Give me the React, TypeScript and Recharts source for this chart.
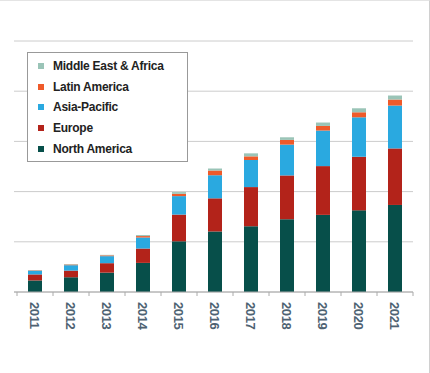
import { BarChart, Bar, XAxis, YAxis, CartesianGrid, Legend } from "recharts";

const years = ["2011", "2012", "2013", "2014", "2015", "2016", "2017", "2018", "2019", "2020", "2021"];
const northAmerica = [11.5, 14.7, 19.3, 29, 50.5, 60.3, 65.5, 72.5, 76.8, 81.3, 86.7];
const europe = [6, 6.6, 9.4, 14.3, 26.6, 33, 39, 43.6, 48.6, 53.4, 56.3];
const asiaPacific = [3.7, 5.4, 7, 11, 18.4, 23, 27, 30.7, 35.4, 39.3, 42.7];
const latinAmerica = [0.4, 0.7, 0.8, 1.4, 2.3, 4.7, 3.6, 4.7, 4.6, 5, 6];
const middleEastAfrica = [0.3, 0.5, 0.5, 1, 1.7, 2, 3, 2.6, 3.4, 4, 4];
const yTicks = [0, 50, 100, 150, 200, 250];

const series = [
  { key: "na", name: "North America", values: northAmerica, color: "#074f4a" },
  { key: "eu", name: "Europe", values: europe, color: "#b3231a" },
  { key: "ap", name: "Asia-Pacific", values: asiaPacific, color: "#2aa9e0" },
  { key: "la", name: "Latin America", values: latinAmerica, color: "#ef5a2a" },
  { key: "mea", name: "Middle East & Africa", values: middleEastAfrica, color: "#9ac4b7" },
];

const data = years.map((year, i) => {
  const row: Record<string, string | number> = { year };
  series.forEach((s) => (row[s.key] = s.values[i]));
  return row;
});

const FONT = "'Liberation Sans', Arial, sans-serif";

function YearTick(props: any) {
  const { x, y, payload, index } = props;
  const half = 18;
  return (
    <g>
      <line x1={x - half} y1={291} x2={x - half} y2={295} stroke="#aaaaaa" />
      {index === years.length - 1 && <line x1={x + half} y1={291} x2={x + half} y2={295} stroke="#aaaaaa" />}
      <text
        x={x}
        y={y + 2}
        dy="0.35em"
        transform={`rotate(90, ${x}, ${y + 2})`}
        textAnchor="start"
        fill="#4e6272"
        fontSize={13}
        fontWeight={700}
        letterSpacing={-0.4}
        fontFamily={FONT}
      >
        {payload.value}
      </text>
    </g>
  );
}

function LegendBox() {
  return (
    <div
      style={{
        width: 159,
        height: 105,
        border: "1px solid #999",
        background: "#fff",
        paddingTop: 3,
        boxSizing: "content-box",
        fontFamily: FONT,
      }}
    >
      {[...series].reverse().map((s) => (
        <div key={s.key} style={{ display: "flex", alignItems: "center", height: 20.6 }}>
          <span style={{ width: 6, height: 6, background: s.color, marginLeft: 10, marginRight: 9, flexShrink: 0 }} />
          <span style={{ fontSize: 12, fontWeight: 700, color: "#222", letterSpacing: -0.25, whiteSpace: "nowrap" }}>
            {s.name}
          </span>
        </div>
      ))}
    </div>
  );
}

export default function App() {
  return (
    <div
      style={{
        position: "absolute",
        left: 0,
        top: 0,
        width: 430,
        height: 373,
        background: "#fff",
        borderTop: "1px solid #e4e4e4",
        borderRight: "1px solid #d0d0d0",
        boxSizing: "border-box",
      }}
    >
      <BarChart width={430} height={373} data={data} margin={{ top: 40, right: 17, bottom: 22, left: 14 }} barSize={14}>
        <CartesianGrid vertical={false} stroke="#cccccc" />
        <YAxis hide domain={[0, 250]} ticks={yTicks} />
        <XAxis
          dataKey="year"
          height={60}
          padding={{ left: 3, right: 0 }}
          axisLine={{ stroke: "#aaaaaa" }}
          tickLine={false}
          tickSize={8}
          tickMargin={0}
          interval={0}
          tick={<YearTick />}
        />
        <Legend
          verticalAlign="middle"
          align="center"
          content={<LegendBox />}
          wrapperStyle={{ position: "absolute", left: 27, top: 51, width: "auto" }}
        />
        {series.map((s) => (
          <Bar key={s.key} dataKey={s.key} name={s.name} stackId="a" fill={s.color} isAnimationActive={false} />
        ))}
      </BarChart>
    </div>
  );
}
